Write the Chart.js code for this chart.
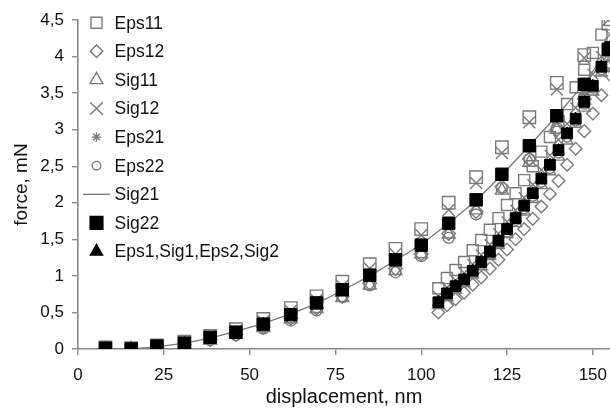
<!DOCTYPE html>
<html><head><meta charset="utf-8">
<script src="https://cdn.jsdelivr.net/npm/chart.js@4/dist/chart.umd.min.js"></script>
<style>html,body{margin:0;padding:0;background:#fff;overflow:hidden}#wrap{position:relative;width:610px;height:409px}</style>
</head><body><div id="wrap"><canvas id="c" width="610" height="409"></canvas></div>
<script>
// displacement (nm) of loading and unloading branches
const loadX   = [8, 15.5, 23, 31, 38.5, 46, 54, 62, 69.5, 77, 85, 92.5, 100, 108, 116, 123.5, 131.5, 139.5, 147.5, 154.5];
const unloadX = [105, 107.5, 110, 112.5, 115, 117.5, 120, 122.5, 125, 127.5, 130, 132.5, 135, 137.5, 140, 142.5, 145, 147.5, 150, 152.5, 155];

// force (mN) per series
const eps11Load   = [0.02,0.01,0.05,0.10,0.18,0.27,0.41,0.56,0.72,0.92,1.16,1.37,1.64,2.00,2.35,2.76,3.17,3.64,4.02,4.45];
const eps11Unload = [0.83,0.97,1.08,1.19,1.35,1.49,1.63,1.79,1.97,2.13,2.31,2.50,2.70,2.90,3.12,3.35,3.58,3.82,4.05,4.30,4.50];
const eps12Load   = [0,0,0.02,0.06,0.13,0.20,0.30,0.42,0.56,0.72,0.90,1.10,1.30,1.58,1.88,2.22,2.60,3.00,3.42,3.88];
const eps12Unload = [0.50,0.60,0.68,0.77,0.88,0.98,1.10,1.22,1.36,1.50,1.64,1.78,1.95,2.12,2.30,2.52,2.74,2.98,3.22,3.47,3.75];
const sig11Load   = [0,0,0.02,0.06,0.12,0.20,0.29,0.41,0.55,0.70,0.87,1.07,1.30,1.57,1.90,2.17,2.55,3.00,3.40,3.85];
const sig11Unload = [0.60,0.71,0.81,0.90,1.02,1.13,1.27,1.42,1.57,1.72,1.88,2.05,2.24,2.43,2.63,2.85,3.08,3.30,3.52,3.78,4.05];
const sig12Load   = [0.01,0.01,0.05,0.09,0.17,0.25,0.38,0.52,0.67,0.86,1.10,1.30,1.56,1.90,2.27,2.68,3.10,3.55,3.98,4.50];
const sig12Unload = [0.72,0.84,0.94,1.04,1.16,1.29,1.43,1.58,1.74,1.90,2.07,2.25,2.45,2.65,2.86,3.08,3.30,3.53,3.76,4.00,4.30];
const eps21Load   = [0,0,0.03,0.08,0.15,0.23,0.34,0.47,0.62,0.80,1.00,1.20,1.42,1.70,2.02,2.37,2.77,3.18,3.62,4.08];
const eps21Unload = [0.65,0.77,0.86,0.96,1.08,1.20,1.34,1.49,1.64,1.80,1.97,2.14,2.33,2.52,2.73,2.95,3.16,3.39,3.62,3.87,4.13];
const eps22Load   = [0,0,0.02,0.06,0.12,0.19,0.28,0.39,0.53,0.71,0.87,1.05,1.27,1.52,1.84,2.20,2.60,3.02,3.45,3.92];
const eps22Unload = [0.62,0.73,0.83,0.92,1.04,1.16,1.30,1.45,1.60,1.76,1.92,2.09,2.28,2.47,2.68,2.90,3.12,3.35,3.57,3.82,4.08];
const sig21Load   = [0,0,0.03,0.08,0.15,0.24,0.35,0.48,0.62,0.80,1.00,1.21,1.43,1.72,2.03,2.38,2.78,3.19,3.63,4.10];
const sig22Load   = [0.01,0,0.04,0.08,0.16,0.23,0.34,0.47,0.63,0.81,1.01,1.22,1.42,1.72,2.04,2.39,2.78,3.19,3.62,4.10];
const sig22Unload = [0.64,0.76,0.86,0.95,1.07,1.19,1.33,1.48,1.64,1.79,1.96,2.13,2.33,2.52,2.72,2.95,3.15,3.38,3.60,3.86,4.13];
const allLoad     = [0,0,0.03,0.08,0.15,0.23,0.34,0.47,0.62,0.80,1.00,1.21,1.42,1.71,2.03,2.38,2.78,3.19,3.62,4.10];
const allUnload   = [0.64,0.76,0.86,0.95,1.07,1.19,1.33,1.48,1.64,1.79,1.96,2.13,2.33,2.52,2.72,2.95,3.15,3.38,3.60,3.86,4.13];

const seriesLabels = ['Eps11','Eps12','Sig11','Sig12','Eps21','Eps22','Sig21','Sig22','Eps1,Sig1,Eps2,Sig2'];
const xTicks = [0, 25, 50, 75, 100, 125, 150];
const yTicks = [0, 0.5, 1, 1.5, 2, 2.5, 3, 3.5, 4, 4.5];

function pts(xs, ys) { return ys.map((y, i) => ({ x: xs[i], y: y })); }
function both(l, u) { return pts(loadX, l).concat(pts(unloadX, u)); }

const GRAY = '#7a7a7a';
const NONE = 'rgba(255,255,255,0)';
const FONT = '"Liberation Sans", Arial, sans-serif';
Chart.defaults.font.family = FONT;

// marker slightly smaller on the dense unloading branch
function sized(rLoad, rUnload) { return c => (c.dataIndex >= loadX.length ? rUnload : rLoad); }

function hollow(label, data, style, r, ru, lr, order) {
  return { label, data, pointStyle: style, pointRadius: sized(r, ru), borderColor: GRAY, backgroundColor: NONE,
    pointBorderWidth: 1.4, borderWidth: 1.4, showLine: false, order, legendStyle: style, legendRadius: lr, legendFill: NONE };
}

const datasets = [
  hollow(seriesLabels[0], both(eps11Load, eps11Unload), 'rect', 8.8, 7.8, 7.8, 5),
  hollow(seriesLabels[1], both(eps12Load, eps12Unload), 'rectRot', 6.8, 6.3, 6.3, 5),
  hollow(seriesLabels[2], both(sig11Load, sig11Unload), 'triangle', 7.5, 6.8, 7.5, 5),
  hollow(seriesLabels[3], both(sig12Load, sig12Unload), 'crossRot', 8.5, 7.5, 9, 5),
  hollow(seriesLabels[4], both(eps21Load, eps21Unload), 'star', 5.5, 5, 4.6, 5),
  hollow(seriesLabels[5], both(eps22Load, eps22Unload), 'circle', 5.5, 5, 4.3, 5),
  { label: seriesLabels[6], data: pts(loadX, sig21Load), showLine: true, pointRadius: 0, borderColor: '#777',
    borderWidth: 1.3, backgroundColor: NONE, order: 2, legendStyle: 'line', legendRadius: 13.5, legendFill: NONE },
  { label: seriesLabels[7], data: both(sig22Load, sig22Unload), pointStyle: 'rect', pointRadius: sized(8.8, 7.6), borderColor: '#000',
    backgroundColor: '#000', pointBorderWidth: 1, showLine: false, order: 0, legendStyle: 'rect', legendRadius: 9, legendFill: '#000' },
  { label: seriesLabels[8], data: both(allLoad, allUnload), pointStyle: 'triangle', pointRadius: 6.5, borderColor: '#000',
    backgroundColor: '#000', pointBorderWidth: 1, showLine: false, order: 1, legendStyle: 'triangle', legendRadius: 7, legendFill: '#000' }
];

const legendPlugin = {
  id: 'insideLegend',
  afterDraw(chart) {
    const ctx = chart.ctx, ca = chart.chartArea;
    chart.data.datasets.forEach((ds, i) => {
      const y = ca.top + 2.7 + i * 28.6;
      const x = ca.left + 18.5;
      ctx.save();
      ctx.strokeStyle = ds.borderColor;
      ctx.fillStyle = ds.legendFill;
      ctx.lineWidth = ds.legendStyle === 'line' ? 1.3 : 1.4;
      Chart.helpers.drawPoint(ctx, { pointStyle: ds.legendStyle, radius: ds.legendRadius, rotation: 0, borderWidth: 1.4 }, x, y);
      ctx.fillStyle = '#111';
      ctx.font = '17.5px ' + FONT;
      ctx.textBaseline = 'middle';
      ctx.textAlign = 'left';
      ctx.fillText(ds.label, ca.left + 36.5, y + 1);
      ctx.restore();
    });
  }
};

new Chart(document.getElementById('c'), {
  type: 'scatter',
  data: { datasets },
  plugins: [legendPlugin],
  options: {
    responsive: false,
    animation: false,
    layout: { autoPadding: false, padding: { top: 20, right: 0, left: 0, bottom: 0 } },
    plugins: { legend: { display: false }, tooltip: { enabled: false } },
    scales: {
      x: {
        type: 'linear', min: 0, max: 155,
        afterBuildTicks: s => { s.ticks = xTicks.map(v => ({ value: v })); },
        afterFit: s => { s.height = 60; s.paddingLeft = 0; s.paddingRight = 0; },
        ticks: { color: '#111', font: { size: 17 }, padding: 10, maxRotation: 0 },
        grid: { display: true, drawOnChartArea: false, drawTicks: true, tickLength: 6, color: '#888', lineWidth: 1.4 },
        border: { display: true, color: '#888', width: 1.6 },
        title: { display: true, text: 'displacement, nm', color: '#111', font: { size: 20 }, padding: { top: 0, bottom: 0 } }
      },
      y: {
        type: 'linear', min: 0, max: 4.5,
        afterBuildTicks: s => { s.ticks = yTicks.map(v => ({ value: v })); },
        afterFit: s => { s.width = 78; s.paddingTop = 0; s.paddingBottom = 0; },
        ticks: { color: '#111', font: { size: 17 }, padding: 8, callback: v => String(v).replace('.', ',') },
        grid: { display: true, drawOnChartArea: false, drawTicks: true, tickLength: 6, color: '#888', lineWidth: 1.4 },
        border: { display: true, color: '#888', width: 1.6 },
        title: { display: true, text: 'force, mN', color: '#111', font: { size: 19 }, padding: { top: 10, bottom: 0 } }
      }
    }
  }
});
</script></body></html>
